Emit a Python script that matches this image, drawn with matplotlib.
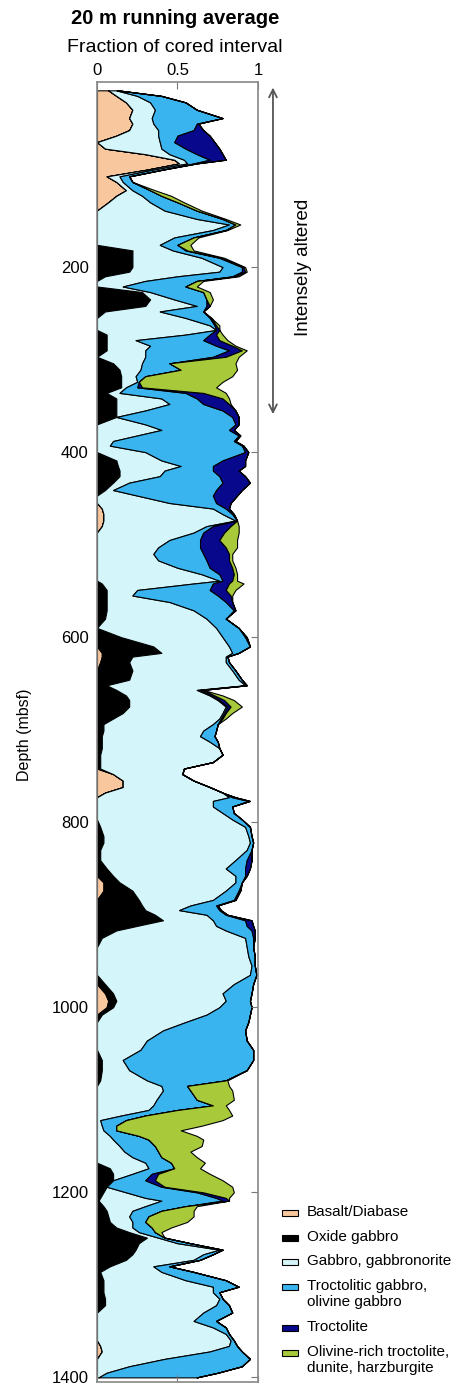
import numpy as np
import matplotlib
matplotlib.use("Agg")
import matplotlib.pyplot as plt
from matplotlib.patches import Rectangle

plt.rcParams['font.family'] = ['Liberation Sans', 'DejaVu Sans']

# depth (mbsf) of each running-average sample
depth = [9, 15, 22, 30, 39, 45, 52, 58, 65, 72,
         78, 84, 88, 95, 102, 108, 117, 123, 130, 139,
         148, 154, 160, 168, 176, 182, 190, 200, 205, 210,
         215, 221, 227, 235, 242, 248, 255, 263, 268, 273,
         279, 285, 290, 297, 304, 311, 318, 324, 330, 336,
         342, 348, 355, 362, 370, 376, 382, 388, 393, 400,
         409, 415, 420, 426, 433, 441, 447, 455, 461, 467,
         474, 480, 487, 495, 503, 510, 517, 525, 532, 539,
         542, 549, 555, 562, 571, 580, 590, 600, 610, 617,
         621, 627, 636, 646, 652, 657, 663, 668, 675, 682,
         688, 694, 701, 707, 713, 720, 727, 735, 742, 748,
         755, 762, 768, 773, 777, 783, 790, 797, 805, 815,
         822, 830, 841, 850, 858, 865, 874, 884, 890, 895,
         900, 906, 912, 917, 925, 935, 945, 955, 965, 975,
         985, 993, 1000, 1008, 1016, 1025, 1036, 1046, 1057, 1068,
         1079, 1085, 1090, 1100, 1106, 1111, 1117, 1122, 1128, 1133,
         1139, 1143, 1150, 1156, 1162, 1168, 1174, 1180, 1187, 1194,
         1200, 1206, 1209, 1215, 1220, 1226, 1232, 1238, 1243, 1249,
         1255, 1262, 1267, 1273, 1280, 1286, 1295, 1302, 1308, 1315,
         1322, 1330, 1339, 1346, 1353, 1360, 1366, 1372, 1380, 1388,
         1395, 1400]

basalt = [.07, .12, .18, .22, .20, .22, .20, .12, 0, .05,
          .30, .48, .51, .30, .06, .12, .18, .12, .07, 0,
          0, 0, 0, 0, 0, 0, 0, 0, 0, 0,
          0, 0, 0, 0, 0, 0, 0, 0, 0, 0,
          0, 0, 0, 0, 0, 0, 0, 0, 0, 0,
          0, 0, 0, 0, 0, 0, 0, 0, 0, 0,
          0, 0, 0, 0, 0, 0, 0, 0, .03, .04,
          .04, .03, 0, 0, 0, 0, 0, 0, 0, 0,
          0, 0, 0, 0, 0, 0, 0, 0, 0, .03,
          .03, .02, 0, 0, 0, 0, 0, 0, 0, 0,
          0, 0, 0, 0, 0, 0, 0, 0, 0, .10,
          .16, .16, .05, 0, 0, 0, 0, 0, 0, 0,
          0, 0, 0, 0, 0, .04, .04, 0, 0, 0,
          0, 0, 0, 0, 0, 0, 0, 0, 0, 0,
          .05, .07, .06, 0, 0, 0, 0, 0, 0, 0,
          0, 0, 0, 0, 0, 0, 0, 0, 0, 0,
          0, 0, 0, 0, 0, 0, 0, 0, 0, 0,
          0, 0, 0, 0, 0, 0, 0, 0, 0, 0,
          0, 0, 0, 0, 0, 0, 0, 0, 0, 0,
          0, 0, 0, 0, 0, 0, .02, .03, 0, 0,
          0, 0]

oxide = [0, 0, 0, 0, 0, 0, 0, 0, 0, 0,
         0, 0, 0, 0, 0, 0, 0, 0, 0, 0,
         0, 0, 0, 0, 0, .22, .22, .22, .20, .05,
         0, 0, .28, .33, .30, .05, 0, 0, 0, .06,
         .06, .06, .06, 0, .10, .14, .15, .15, .15, .06,
         .12, .12, .12, .12, 0, 0, 0, 0, 0, 0,
         .12, .13, .14, .14, .10, .05, 0, 0, 0, 0,
         0, 0, 0, 0, 0, 0, 0, 0, 0, 0,
         .03, .06, .06, .06, .06, .05, 0, .15, .35, .37,
         .19, .18, .22, .20, .06, .12, .18, .20, .20, .16,
         .10, .04, .04, .03, .03, .03, .02, .02, .02, 0,
         0, 0, 0, 0, 0, 0, 0, 0, .02, .04,
         .04, .02, .02, .06, .10, .10, .18, .26, .28, .30,
         .36, .41, .25, .12, .03, 0, 0, 0, 0, .05,
         .05, .05, .04, .03, 0, 0, 0, 0, .03, .03,
         .02, 0, 0, 0, 0, 0, 0, 0, 0, 0,
         0, 0, 0, 0, 0, 0, .08, .10, .10, .06,
         .04, .02, .01, .04, .06, .07, .08, .12, .20, .31,
         .26, .24, .22, .18, .08, .02, .04, .04, .04, .05,
         .05, 0, 0, 0, 0, 0, 0, 0, 0, 0,
         0, 0]

gabbro = [.05, .13, .15, .14, .14, .13, .18, .26, .39, .35,
          .15, .06, .05, .04, .08, .04, .04, .16, .26, .42,
          .62, .82, .72, .48, .39, .25, .43, .56, .56, .45,
          .30, .16, .05, .15, .32, .34, .55, .70, .74, .49,
          .18, .27, .24, .30, .18, .13, .09, .10, .03, .08,
          .28, .33, .18, 0, .30, .40, .25, .10, .08, .30,
          .28, .39, .28, .25, .10, .05, .25, .45, .69, .74,
          .82, .65, .60, .45, .38, .35, .38, .50, .65, .76,
          .57, .19, .16, .39, .54, .63, .74, .63, .47, .44,
          .58, .60, .62, .68, .86, .50, .52, .55, .60, .62,
          .66, .68, .62, .61, .67, .73, .76, .70, .52, .43,
          .44, .54, .73, .82, .72, .72, .78, .84, .90, .90,
          .91, .91, .84, .74, .76, .72, .58, .46, .30, .21,
          .32, .31, .49, .68, .89, .93, .94, .96, .95, .80,
          .68, .68, .66, .65, .55, .41, .31, .27, .13, .17,
          .29, .40, .41, .37, .35, .32, .15, .02, .03, .04,
          .08, .10, .14, .17, .22, .30, .24, .12, 0, 0,
          .14, .28, .39, .26, .16, .13, .14, .10, .06, .07,
          .24, .52, .44, .42, .27, .38, .51, .68, .68, .71,
          .69, .66, .60, .72, .80, .83, .80, .67, .42, .20,
          .06, .01]

troct_gabbro = [.01, .15, .22, .26, .44, .27, .22, .12, .09, .15,
                .17, .16, .04, .06, .06, .06, .11, .12, .17, .20,
                .16, .04, .08, .12, .11, .08, .11, .12, .14, .34,
                .32, .39, .33, .20, .06, .27, .15, .03, 0, .15,
                .42, .41, .52, .42, .17, .25, .06, .01, .07, .41,
                .22, .21, .48, .72, .56, .42, .63, .75, .82, .62,
                .38, .20, .30, .37, .58, .64, .47, .29, .08, .06,
                .01, .04, .06, .19, .26, .31, .30, .20, .11, .02,
                .12, .45, .53, .35, .25, .12, .14, .14, .13, .04,
                .01, .02, .02, .02, .01, .02, .01, .01, .01, .01,
                .01, .03, .08, .09, .05, 0, 0, 0, 0, 0,
                0, 0, 0, .02, .22, .12, .07, .06, .03, .02,
                .02, .03, .07, .12, .06, .04, .08, .13, .16, .25,
                .12, .20, .19, .16, .05, .04, .04, .02, .04, .12,
                .18, .15, .20, .27, .39, .51, .62, .70, .81, .73,
                .49, .16, .17, .25, .37, .18, .15, .16, .09, .08,
                .18, .22, .22, .21, .18, .16, .16, .12, .20, .34,
                .44, .44, .38, .25, .18, .12, .08, .12, .10, .04,
                .08, .02, .06, .04, .10, .20, .25, .16, .04, .02,
                .08, .18, .14, .08, .02, .02, .05, .20, .53, .70,
                .69, .61]

troctolite = [0, 0, 0, 0, 0, .01, .06, .20, .25, .21,
              .16, .10, .02, 0, 0, 0, 0, 0, 0, 0,
              0, 0, 0, 0, 0, .01, .01, .01, .02, .02,
              0, 0, 0, 0, .02, 0, .01, .01, .02, .04,
              .10, .10, .08, .08, 0, 0, 0, 0, .03, .11,
              .16, .16, .08, .04, .02, .03, .01, .01, .01, .02,
              .14, .20, .16, .16, .17, .16, .15, .09, .02, .01,
              0, .11, .13, .12, .16, .16, .14, .14, .09, .06,
              .10, .10, .08, .04, .01, 0, 0, .01, 0, 0,
              0, 0, 0, 0, 0, .02, .02, .03, .02, .01,
              .01, 0, 0, 0, 0, 0, 0, 0, 0, 0,
              0, 0, 0, .02, .01, 0, 0, 0, 0, 0,
              0, 0, .03, .03, .01, 0, .01, .01, .01, .01,
              .01, .04, .04, .02, .01, 0, 0, 0, 0, 0,
              0, 0, 0, 0, 0, 0, 0, 0, 0, 0,
              0, 0, 0, 0, 0, 0, 0, 0, 0, 0,
              0, 0, 0, 0, 0, 0, 0, .04, .06, .02,
              .04, .06, .04, 0, 0, 0, 0, 0, 0, 0,
              0, 0, 0, 0, 0, 0, 0, 0, 0, 0,
              0, 0, 0, 0, 0, 0, 0, 0, 0, 0,
              0, 0]

olivine_rich = [0, 0, 0, 0, 0, 0, 0, 0, 0, 0,
                0, 0, 0, 0, 0, 0, .03, .06, .04, .03,
                .02, .03, .01, .03, .08, .04, .02, .01, .01, .02,
                .04, .07, .04, .04, 0, 0, 0, .02, 0, .04,
                .05, .02, .03, .08, .41, .35, .54, .52, .46, .14,
                .04, .01, 0, 0, 0, 0, 0, 0, 0, 0,
                0, 0, 0, 0, 0, 0, 0, 0, 0, 0,
                0, .05, .09, .11, .07, .02, .02, .02, .02, .03,
                .09, .06, .01, 0, 0, 0, 0, 0, 0, 0,
                0, 0, 0, 0, 0, 0, .05, .06, .07, .04,
                .02, 0, 0, 0, 0, 0, 0, 0, 0, 0,
                0, 0, 0, 0, 0, 0, 0, 0, 0, 0,
                0, 0, 0, 0, 0, 0, 0, 0, 0, 0,
                0, 0, 0, 0, 0, 0, 0, 0, 0, 0,
                0, 0, 0, 0, 0, 0, 0, 0, 0, 0,
                .01, .26, .26, .23, .08, .32, .54, .60, .53, .40,
                .36, .34, .29, .20, .22, .21, .16, .32, .42, .42,
                .19, .02, 0, .07, .20, .28, .26, .12, .04, 0,
                0, 0, 0, 0, 0, 0, 0, 0, 0, 0,
                0, 0, 0, 0, 0, 0, 0, 0, 0, 0,
                0, 0]

labels = ["Basalt/Diabase", "Oxide gabbro", "Gabbro, gabbronorite",
          "Troctolitic gabbro,\nolivine gabbro", "Troctolite",
          "Olivine-rich troctolite,\ndunite, harzburgite"]
colors = ["#F9C79E", "#000000", "#D4F6FA", "#3AB4EE", "#08088C", "#A8CA3A"]
depth_ticks = [200, 400, 600, 800, 1000, 1200, 1400]

W, H = 464, 1386
fig = plt.figure(figsize=(W / 100, H / 100), dpi=100)
ax = fig.add_axes([97 / W, 4 / H, 161 / W, 1300 / H])

layers = [basalt, oxide, gabbro, troct_gabbro, troctolite, olivine_rich]
d = np.array(depth)
left = np.zeros(len(d))
for vals, col in zip(layers, colors):
    right = left + np.array(vals)
    ax.fill_betweenx(d, left, right, facecolor=col, edgecolor='black',
                     linewidth=0.8)
    left = right

ax.set_xlim(0, 1)
ax.set_ylim(1405, 0)
ax.set_xticks([0, 0.5, 1])
ax.set_xticklabels(['0', '0.5', '1'])
ax.set_yticks(depth_ticks)
ax.tick_params(axis='x', top=True, bottom=True, labeltop=True,
               labelbottom=False, direction='in', length=5, pad=3,
               labelsize=12, color='#777777')
ax.tick_params(axis='y', left=False, right=True, labelleft=True,
               direction='in', length=5, pad=6, labelsize=12,
               color='#777777')
for s in ax.spines.values():
    s.set_color('#888888')
    s.set_linewidth(1.2)

fig.text(175 / W, 1 - 19 / H, "20 m running average", ha='center',
         va='center', fontsize=14.5, fontweight='bold')
fig.text(175 / W, 1 - 47 / H, "Fraction of cored interval", ha='center',
         va='center', fontsize=14)
fig.text(25 / W, 1 - 735 / H, "Depth (mbsf)", ha='center', va='center',
         rotation=90, fontsize=11.5)

# intensely altered interval
ax.annotate('', xy=(1.093, 3), xytext=(1.093, 362),
            xycoords='data', annotation_clip=False,
            arrowprops=dict(arrowstyle='<->', color='#555555', lw=1.3,
                            mutation_scale=14))
ax.text(1.28, 200, "Intensely altered", rotation=90, ha='center',
        va='center', fontsize=13.5, clip_on=False)

# legend
ys = [1213, 1238, 1262, 1287, 1328, 1353]
for y, lab, col in zip(ys, labels, colors):
    fig.add_artist(Rectangle((282 / W, 1 - (y + 3) / H), 16 / W, 6 / H,
                             facecolor=col, edgecolor='black', lw=0.8,
                             transform=fig.transFigure))
    fig.text(307 / W, 1 - (y - 8) / H, lab, ha='left', va='top',
             fontsize=11, linespacing=1.2)

fig.savefig('out.png', dpi=100)
